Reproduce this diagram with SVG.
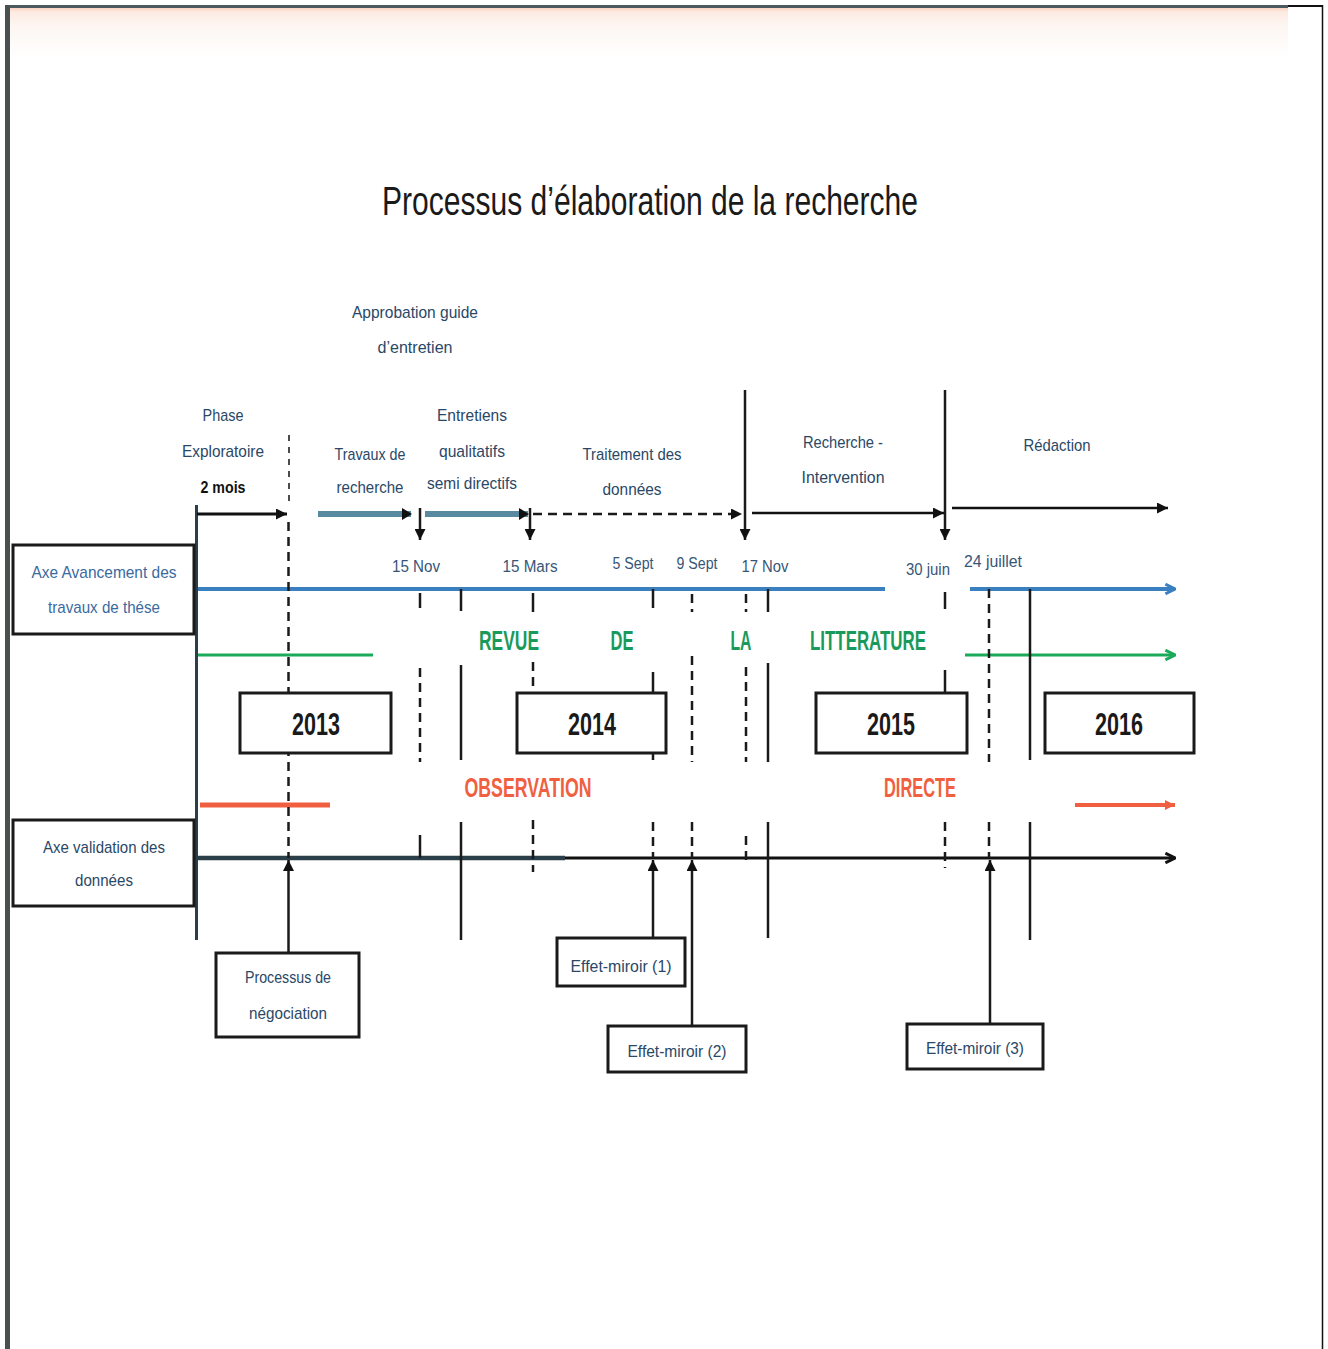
<svg xmlns="http://www.w3.org/2000/svg" width="1328" height="1349" viewBox="0 0 1328 1349">
<defs>
<style>
.lbl{font-family:"Liberation Sans",Arial,sans-serif;font-size:17px;fill:#2a4866;text-anchor:middle}
.dt{font-family:"Liberation Sans",Arial,sans-serif;font-size:16px;fill:#365678;text-anchor:middle}
.axe{font-family:"Liberation Sans",Arial,sans-serif;font-size:17px;fill:#3a6aa0;text-anchor:middle}
.yr{font-family:"Liberation Sans",Arial,sans-serif;font-size:32px;font-weight:bold;fill:#1a1a1a;text-anchor:middle}
.big{font-family:"Liberation Sans",Arial,sans-serif;font-size:28px;font-weight:bold;text-anchor:middle}
.box{fill:#ffffff;stroke:#1a1a1a;stroke-width:3}
.sl{stroke:#1a1a1a;stroke-width:2.5;fill:none}
.ds{stroke:#1a1a1a;stroke-width:2.5;fill:none;stroke-dasharray:9 6}
</style>
<linearGradient id="topfade" x1="0" y1="0" x2="0" y2="1">
<stop offset="0" stop-color="#fbd3c0"/>
<stop offset="0.08" stop-color="#fcebe2"/>
<stop offset="0.35" stop-color="#fdf6f2"/>
<stop offset="1" stop-color="#ffffff"/>
</linearGradient>
<marker id="ah" viewBox="0 0 10 10" refX="10" refY="5" markerWidth="11" markerHeight="11" markerUnits="userSpaceOnUse" orient="auto"><path d="M0,0 L10,5 L0,10 z" fill="#111"/></marker>
<marker id="ahb" viewBox="0 0 10 10" refX="9" refY="5" markerWidth="12" markerHeight="12" markerUnits="userSpaceOnUse" orient="auto"><path d="M1,1 L9,5 L1,9" fill="none" stroke="#3a7fc0" stroke-width="2.5"/></marker>
<marker id="ahg" viewBox="0 0 10 10" refX="9" refY="5" markerWidth="12" markerHeight="12" markerUnits="userSpaceOnUse" orient="auto"><path d="M1,1 L9,5 L1,9" fill="none" stroke="#1aaa5a" stroke-width="2.5"/></marker>
<marker id="ahr" viewBox="0 0 10 10" refX="10" refY="5" markerWidth="10" markerHeight="10" markerUnits="userSpaceOnUse" orient="auto"><path d="M0,0 L10,5 L0,10 z" fill="#f06040"/></marker>
<marker id="ahk" viewBox="0 0 10 10" refX="9" refY="5" markerWidth="12" markerHeight="12" markerUnits="userSpaceOnUse" orient="auto"><path d="M1,1 L9,5 L1,9" fill="none" stroke="#111" stroke-width="2.5"/></marker>
</defs>
<rect x="0" y="0" width="1328" height="1349" fill="#ffffff"/>
<g id="frame">
<rect x="10" y="8" width="1278" height="50" fill="url(#topfade)"/>
<line x1="5" y1="6.5" x2="1288" y2="6.5" stroke="#4a5a60" stroke-width="3"/>
<line x1="1288" y1="6" x2="1323" y2="6" stroke="#111" stroke-width="2"/>
<line x1="7.5" y1="5" x2="7.5" y2="1349" stroke="#4a5050" stroke-width="5"/>
<line x1="1322.5" y1="5" x2="1322.5" y2="1349" stroke="#111" stroke-width="1.5"/>
</g>
<text id="title" x="650" y="215" font-family="'Liberation Sans',Arial,sans-serif" font-size="40" fill="#1a1a1a" text-anchor="middle" textLength="536" lengthAdjust="spacingAndGlyphs">Processus d’élaboration de la recherche</text>

<g id="connectors">
<line x1="196" y1="589" x2="885" y2="589" stroke="#3a7fc0" stroke-width="4"/>
<line x1="970" y1="589" x2="1175" y2="589" stroke="#3a7fc0" stroke-width="4" marker-end="url(#ahb)"/>
<line x1="198" y1="655" x2="373" y2="655" stroke="#1aaa5a" stroke-width="3"/>
<line x1="965" y1="655" x2="1175" y2="655" stroke="#1aaa5a" stroke-width="3" marker-end="url(#ahg)"/>
<line x1="200" y1="805" x2="330" y2="805" stroke="#f06040" stroke-width="5"/>
<line x1="1075" y1="805" x2="1175" y2="805" stroke="#f06040" stroke-width="4" marker-end="url(#ahr)"/>
<line x1="196" y1="858" x2="565" y2="858" stroke="#2a3f4a" stroke-width="4.5"/>
<line x1="565" y1="858" x2="1175" y2="858" stroke="#111" stroke-width="3" marker-end="url(#ahk)"/>
<line x1="196.5" y1="505" x2="196.5" y2="940" stroke="#2a3f4a" stroke-width="3"/>

<line x1="197" y1="514" x2="287" y2="514" stroke="#111" stroke-width="3" marker-end="url(#ah)"/>
<line x1="318" y1="514" x2="411" y2="514" stroke="#5a8aa0" stroke-width="6"/>
<path d="M402,508 L412,514 L402,520 z" fill="#111"/>
<line x1="425" y1="514" x2="528" y2="514" stroke="#5a8aa0" stroke-width="6"/>
<path d="M519,508 L529,514 L519,520 z" fill="#111"/>
<line x1="533" y1="514" x2="742" y2="514" class="ds" marker-end="url(#ah)"/>
<line x1="752" y1="513" x2="944" y2="513" stroke="#111" stroke-width="2.5" marker-end="url(#ah)"/>
<line x1="952" y1="508" x2="1168" y2="508" stroke="#111" stroke-width="2.5" marker-end="url(#ah)"/>
<line x1="420" y1="508" x2="420" y2="540" class="sl" marker-end="url(#ah)"/>
<line x1="530" y1="508" x2="530" y2="540" class="sl" marker-end="url(#ah)"/>
<line x1="745" y1="390" x2="745" y2="540" class="sl" marker-end="url(#ah)"/>
<line x1="945" y1="390" x2="945" y2="540" class="sl" marker-end="url(#ah)"/>
<line x1="289" y1="435" x2="289" y2="505" stroke="#111" stroke-width="1.5" stroke-dasharray="6 6"/>

<line x1="288.5" y1="522" x2="288.5" y2="858" class="ds"/>
<line x1="420" y1="593" x2="420" y2="608" class="sl"/>
<line x1="420" y1="668" x2="420" y2="762" class="ds"/>
<line x1="420" y1="835" x2="420" y2="858" class="sl"/>
<line x1="461" y1="589" x2="461" y2="611" class="sl"/>
<line x1="461" y1="665" x2="461" y2="760" class="sl"/>
<line x1="461" y1="822" x2="461" y2="940" class="sl"/>
<line x1="533" y1="593" x2="533" y2="612" class="sl"/>
<line x1="533" y1="662" x2="533" y2="693" class="ds"/>
<line x1="533" y1="820" x2="533" y2="872" class="ds"/>
<line x1="653" y1="589" x2="653" y2="608" class="sl"/>
<line x1="653" y1="672" x2="653" y2="693" class="sl"/>
<line x1="653" y1="753" x2="653" y2="760" class="sl"/>
<line x1="653" y1="822" x2="653" y2="858" class="ds"/>
<line x1="692" y1="594" x2="692" y2="612" class="ds"/>
<line x1="692" y1="656" x2="692" y2="762" class="ds"/>
<line x1="692" y1="822" x2="692" y2="858" class="ds"/>
<line x1="746" y1="594" x2="746" y2="612" class="ds"/>
<line x1="746" y1="667" x2="746" y2="762" class="ds"/>
<line x1="746" y1="836" x2="746" y2="862" class="ds"/>
<line x1="768" y1="589" x2="768" y2="612" class="sl"/>
<line x1="768" y1="663" x2="768" y2="762" class="sl"/>
<line x1="768" y1="822" x2="768" y2="938" class="sl"/>
<line x1="945" y1="592" x2="945" y2="609" class="sl"/>
<line x1="945" y1="670" x2="945" y2="693" class="sl"/>
<line x1="945" y1="822" x2="945" y2="868" class="ds"/>
<line x1="989" y1="589" x2="989" y2="762" class="ds"/>
<line x1="989" y1="822" x2="989" y2="858" class="ds"/>
<line x1="1030" y1="589" x2="1030" y2="760" class="sl"/>
<line x1="1030" y1="822" x2="1030" y2="940" class="sl"/>

<line x1="288.5" y1="953" x2="288.5" y2="860" class="sl" marker-end="url(#ah)"/>
<line x1="653" y1="938" x2="653" y2="860" class="sl" marker-end="url(#ah)"/>
<line x1="692" y1="1026" x2="692" y2="860" class="sl" marker-end="url(#ah)"/>
<line x1="990" y1="1024" x2="990" y2="860" class="sl" marker-end="url(#ah)"/>
</g>

<g id="labels">
<text class="lbl" x="415" y="318" textLength="126" lengthAdjust="spacingAndGlyphs">Approbation guide</text>
<text class="lbl" x="415" y="353" textLength="75" lengthAdjust="spacingAndGlyphs">d’entretien</text>
<text class="lbl" x="223" y="421" textLength="41" lengthAdjust="spacingAndGlyphs">Phase</text>
<text class="lbl" x="223" y="457" textLength="82" lengthAdjust="spacingAndGlyphs">Exploratoire</text>
<text class="lbl" x="223" y="493" textLength="45" lengthAdjust="spacingAndGlyphs" font-weight="bold" style="fill:#111">2 mois</text>
<text class="lbl" x="370" y="460" textLength="71" lengthAdjust="spacingAndGlyphs">Travaux de</text>
<text class="lbl" x="370" y="493" textLength="67" lengthAdjust="spacingAndGlyphs">recherche</text>
<text class="lbl" x="472" y="421" textLength="70" lengthAdjust="spacingAndGlyphs">Entretiens</text>
<text class="lbl" x="472" y="457" textLength="66" lengthAdjust="spacingAndGlyphs">qualitatifs</text>
<text class="lbl" x="472" y="489" textLength="90" lengthAdjust="spacingAndGlyphs">semi directifs</text>
<text class="lbl" x="632" y="460" textLength="99" lengthAdjust="spacingAndGlyphs">Traitement des</text>
<text class="lbl" x="632" y="495" textLength="59" lengthAdjust="spacingAndGlyphs">données</text>
<text class="lbl" x="843" y="448" textLength="80" lengthAdjust="spacingAndGlyphs">Recherche -</text>
<text class="lbl" x="843" y="483" textLength="83" lengthAdjust="spacingAndGlyphs">Intervention</text>
<text class="lbl" x="1057" y="451" textLength="67" lengthAdjust="spacingAndGlyphs">Rédaction</text>

<text class="dt" x="416" y="572" textLength="48" lengthAdjust="spacingAndGlyphs">15 Nov</text>
<text class="dt" x="530" y="572" textLength="55" lengthAdjust="spacingAndGlyphs">15 Mars</text>
<text class="dt" x="633" y="569" textLength="41" lengthAdjust="spacingAndGlyphs">5 Sept</text>
<text class="dt" x="697" y="569" textLength="41" lengthAdjust="spacingAndGlyphs">9 Sept</text>
<text class="dt" x="765" y="572" textLength="47" lengthAdjust="spacingAndGlyphs">17 Nov</text>
<text class="dt" x="928" y="575" textLength="44" lengthAdjust="spacingAndGlyphs">30 juin</text>
<text class="dt" x="993" y="567" textLength="58" lengthAdjust="spacingAndGlyphs">24 juillet</text>

<text class="big" x="509" y="650" fill="#1a9a5a" textLength="60" lengthAdjust="spacingAndGlyphs">REVUE</text>
<text class="big" x="622" y="650" fill="#1a9a5a" textLength="23" lengthAdjust="spacingAndGlyphs">DE</text>
<text class="big" x="741" y="650" fill="#1a9a5a" textLength="21" lengthAdjust="spacingAndGlyphs">LA</text>
<text class="big" x="868" y="650" fill="#1a9a5a" textLength="116" lengthAdjust="spacingAndGlyphs">LITTERATURE</text>
<text class="big" x="528" y="797" fill="#f06040" textLength="127" lengthAdjust="spacingAndGlyphs">OBSERVATION</text>
<text class="big" x="920" y="797" fill="#f06040" textLength="72" lengthAdjust="spacingAndGlyphs">DIRECTE</text>
</g>

<g id="node-axe-avancement">
<rect class="box" x="13" y="545" width="181" height="89"/>
<text class="axe" x="104" y="578" textLength="145" lengthAdjust="spacingAndGlyphs">Axe Avancement  des</text>
<text class="axe" x="104" y="613" textLength="112" lengthAdjust="spacingAndGlyphs">travaux de thése</text>
</g>
<g id="node-axe-validation">
<rect class="box" x="13" y="820" width="181" height="86"/>
<text class="lbl" x="104" y="853" textLength="122" lengthAdjust="spacingAndGlyphs">Axe validation des</text>
<text class="lbl" x="104" y="886" textLength="58" lengthAdjust="spacingAndGlyphs">données</text>
</g>
<g id="node-2013"><rect class="box" x="240" y="693" width="151" height="60"/><text class="yr" x="316" y="735" textLength="48" lengthAdjust="spacingAndGlyphs">2013</text></g>
<g id="node-2014"><rect class="box" x="517" y="693" width="149" height="60"/><text class="yr" x="592" y="735" textLength="48" lengthAdjust="spacingAndGlyphs">2014</text></g>
<g id="node-2015"><rect class="box" x="816" y="693" width="151" height="60"/><text class="yr" x="891" y="735" textLength="48" lengthAdjust="spacingAndGlyphs">2015</text></g>
<g id="node-2016"><rect class="box" x="1045" y="693" width="149" height="60"/><text class="yr" x="1119" y="735" textLength="48" lengthAdjust="spacingAndGlyphs">2016</text></g>
<g id="node-negociation">
<rect class="box" x="216" y="953" width="143" height="84"/>
<text class="lbl" x="288" y="983" textLength="86" lengthAdjust="spacingAndGlyphs">Processus de</text>
<text class="lbl" x="288" y="1019" textLength="78" lengthAdjust="spacingAndGlyphs">négociation</text>
</g>
<g id="node-effet1"><rect class="box" x="557" y="938" width="128" height="48"/><text class="lbl" x="621" y="972" textLength="101" lengthAdjust="spacingAndGlyphs">Effet-miroir (1)</text></g>
<g id="node-effet2"><rect class="box" x="608" y="1026" width="138" height="46"/><text class="lbl" x="677" y="1057" textLength="99" lengthAdjust="spacingAndGlyphs">Effet-miroir (2)</text></g>
<g id="node-effet3"><rect class="box" x="907" y="1024" width="136" height="45"/><text class="lbl" x="975" y="1054" textLength="98" lengthAdjust="spacingAndGlyphs">Effet-miroir (3)</text></g>
</svg>
